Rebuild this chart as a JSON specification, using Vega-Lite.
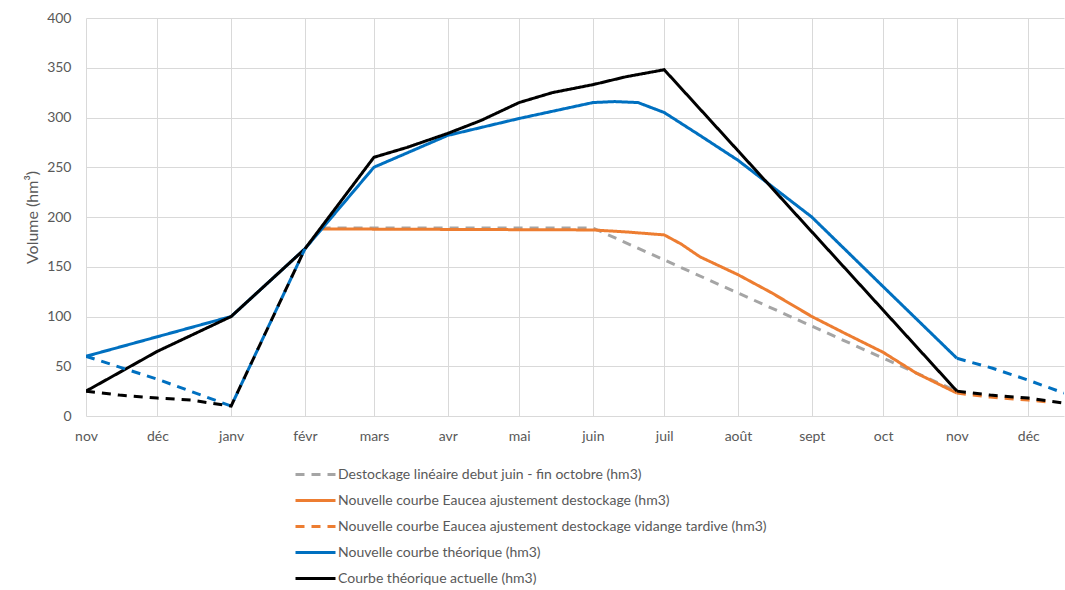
{
  "$schema": "https://vega.github.io/schema/vega-lite/v6.json",
  "width": 978,
  "height": 398,
  "autosize": {"type": "none"},
  "padding": {"left": 86, "top": 18, "right": 1, "bottom": 174},
  "background": "white",
  "config": {
    "font": "Lato",
    "view": {"stroke": null},
    "axis": {"labelColor": "#595959", "labelFontSize": 14, "titleColor": "#595959", "gridColor": "#d9d9d9", "gridWidth": 1, "ticks": false, "domain": false}
  },
  "data": {
    "values": [
      {"s": "Destockage linéaire debut juin - fin octobre (hm3)", "d": "2020-02-08", "v": 189},
      {"s": "Destockage linéaire debut juin - fin octobre (hm3)", "d": "2020-06-01", "v": 189},
      {"s": "Destockage linéaire debut juin - fin octobre (hm3)", "d": "2020-10-31", "v": 26},

      {"s": "Nouvelle courbe Eaucea ajustement destockage (hm3)", "d": "2020-02-08", "v": 188},
      {"s": "Nouvelle courbe Eaucea ajustement destockage (hm3)", "d": "2020-06-01", "v": 187},
      {"s": "Nouvelle courbe Eaucea ajustement destockage (hm3)", "d": "2020-06-15", "v": 185},
      {"s": "Nouvelle courbe Eaucea ajustement destockage (hm3)", "d": "2020-07-01", "v": 182},
      {"s": "Nouvelle courbe Eaucea ajustement destockage (hm3)", "d": "2020-07-08", "v": 173},
      {"s": "Nouvelle courbe Eaucea ajustement destockage (hm3)", "d": "2020-07-16", "v": 160},
      {"s": "Nouvelle courbe Eaucea ajustement destockage (hm3)", "d": "2020-08-01", "v": 142},
      {"s": "Nouvelle courbe Eaucea ajustement destockage (hm3)", "d": "2020-08-15", "v": 124},
      {"s": "Nouvelle courbe Eaucea ajustement destockage (hm3)", "d": "2020-09-01", "v": 100},
      {"s": "Nouvelle courbe Eaucea ajustement destockage (hm3)", "d": "2020-09-15", "v": 83},
      {"s": "Nouvelle courbe Eaucea ajustement destockage (hm3)", "d": "2020-10-01", "v": 64},
      {"s": "Nouvelle courbe Eaucea ajustement destockage (hm3)", "d": "2020-10-15", "v": 43},
      {"s": "Nouvelle courbe Eaucea ajustement destockage (hm3)", "d": "2020-11-01", "v": 23},

      {"s": "Nouvelle courbe Eaucea ajustement destockage vidange tardive (hm3)", "d": "2020-11-01", "v": 23},
      {"s": "Nouvelle courbe Eaucea ajustement destockage vidange tardive (hm3)", "d": "2020-11-15", "v": 19},
      {"s": "Nouvelle courbe Eaucea ajustement destockage vidange tardive (hm3)", "d": "2020-12-01", "v": 16},
      {"s": "Nouvelle courbe Eaucea ajustement destockage vidange tardive (hm3)", "d": "2020-12-10", "v": 14},

      {"s": "Nouvelle courbe théorique (hm3)", "d": "2019-11-01", "v": 60},
      {"s": "Nouvelle courbe théorique (hm3)", "d": "2020-01-01", "v": 100},
      {"s": "Nouvelle courbe théorique (hm3)", "d": "2020-02-01", "v": 168},
      {"s": "Nouvelle courbe théorique (hm3)", "d": "2020-03-01", "v": 250},
      {"s": "Nouvelle courbe théorique (hm3)", "d": "2020-04-01", "v": 282},
      {"s": "Nouvelle courbe théorique (hm3)", "d": "2020-05-01", "v": 299},
      {"s": "Nouvelle courbe théorique (hm3)", "d": "2020-06-01", "v": 315},
      {"s": "Nouvelle courbe théorique (hm3)", "d": "2020-06-10", "v": 316},
      {"s": "Nouvelle courbe théorique (hm3)", "d": "2020-06-20", "v": 315},
      {"s": "Nouvelle courbe théorique (hm3)", "d": "2020-07-01", "v": 305},
      {"s": "Nouvelle courbe théorique (hm3)", "d": "2020-07-16", "v": 282},
      {"s": "Nouvelle courbe théorique (hm3)", "d": "2020-08-01", "v": 257},
      {"s": "Nouvelle courbe théorique (hm3)", "d": "2020-09-01", "v": 200},
      {"s": "Nouvelle courbe théorique (hm3)", "d": "2020-10-01", "v": 130},
      {"s": "Nouvelle courbe théorique (hm3)", "d": "2020-11-01", "v": 58},

      {"s": "Courbe théorique actuelle (hm3)", "d": "2019-11-01", "v": 25},
      {"s": "Courbe théorique actuelle (hm3)", "d": "2019-12-01", "v": 65},
      {"s": "Courbe théorique actuelle (hm3)", "d": "2020-01-01", "v": 100},
      {"s": "Courbe théorique actuelle (hm3)", "d": "2020-02-01", "v": 168},
      {"s": "Courbe théorique actuelle (hm3)", "d": "2020-03-01", "v": 260},
      {"s": "Courbe théorique actuelle (hm3)", "d": "2020-03-15", "v": 270},
      {"s": "Courbe théorique actuelle (hm3)", "d": "2020-04-01", "v": 284},
      {"s": "Courbe théorique actuelle (hm3)", "d": "2020-04-15", "v": 297},
      {"s": "Courbe théorique actuelle (hm3)", "d": "2020-05-01", "v": 315},
      {"s": "Courbe théorique actuelle (hm3)", "d": "2020-05-15", "v": 325},
      {"s": "Courbe théorique actuelle (hm3)", "d": "2020-06-01", "v": 333},
      {"s": "Courbe théorique actuelle (hm3)", "d": "2020-06-15", "v": 341},
      {"s": "Courbe théorique actuelle (hm3)", "d": "2020-07-01", "v": 348},
      {"s": "Courbe théorique actuelle (hm3)", "d": "2020-11-01", "v": 25},

      {"s": "Nouvelle courbe théorique - vidange", "d": "2019-11-01", "v": 60},
      {"s": "Nouvelle courbe théorique - vidange", "d": "2019-12-01", "v": 37},
      {"s": "Nouvelle courbe théorique - vidange", "d": "2020-01-01", "v": 10},
      {"s": "Nouvelle courbe théorique - vidange", "d": "2020-02-01", "v": 168},
      {"s": "Nouvelle courbe théorique - fin", "d": "2020-11-01", "v": 58},
      {"s": "Nouvelle courbe théorique - fin", "d": "2020-11-16", "v": 48},
      {"s": "Nouvelle courbe théorique - fin", "d": "2020-12-01", "v": 36},
      {"s": "Nouvelle courbe théorique - fin", "d": "2020-12-16", "v": 23},

      {"s": "Courbe théorique actuelle - vidange", "d": "2019-11-01", "v": 25},
      {"s": "Courbe théorique actuelle - vidange", "d": "2019-11-15", "v": 21},
      {"s": "Courbe théorique actuelle - vidange", "d": "2019-12-01", "v": 18},
      {"s": "Courbe théorique actuelle - vidange", "d": "2019-12-15", "v": 16},
      {"s": "Courbe théorique actuelle - vidange", "d": "2020-01-01", "v": 10},
      {"s": "Courbe théorique actuelle - vidange", "d": "2020-02-01", "v": 168},
      {"s": "Courbe théorique actuelle - fin", "d": "2020-11-01", "v": 25},
      {"s": "Courbe théorique actuelle - fin", "d": "2020-11-15", "v": 21},
      {"s": "Courbe théorique actuelle - fin", "d": "2020-12-01", "v": 18},
      {"s": "Courbe théorique actuelle - fin", "d": "2020-12-16", "v": 13}
    ]
  },
  "mark": {"type": "line", "strokeWidth": 3, "clip": true},
  "encoding": {
    "x": {
      "field": "d",
      "type": "temporal",
      "scale": {"type": "utc", "domain": [{"year": 2019, "month": 11, "date": 1, "utc": true}, {"year": 2020, "month": 12, "date": 16, "utc": true}]},
      "axis": {
        "title": null,
        "grid": true,
        "labelPadding": 13,
        "labelAlign": "center",
        "values": [
          {"year": 2019, "month": 11, "date": 1, "utc": true},
          {"year": 2019, "month": 12, "date": 1, "utc": true},
          {"year": 2020, "month": 1, "date": 1, "utc": true},
          {"year": 2020, "month": 2, "date": 1, "utc": true},
          {"year": 2020, "month": 3, "date": 1, "utc": true},
          {"year": 2020, "month": 4, "date": 1, "utc": true},
          {"year": 2020, "month": 5, "date": 1, "utc": true},
          {"year": 2020, "month": 6, "date": 1, "utc": true},
          {"year": 2020, "month": 7, "date": 1, "utc": true},
          {"year": 2020, "month": 8, "date": 1, "utc": true},
          {"year": 2020, "month": 9, "date": 1, "utc": true},
          {"year": 2020, "month": 10, "date": 1, "utc": true},
          {"year": 2020, "month": 11, "date": 1, "utc": true},
          {"year": 2020, "month": 12, "date": 1, "utc": true}
        ],
        "labelExpr": "['janv','févr','mars','avr','mai','juin','juil','août','sept','oct','nov','déc'][utcmonth(datum.value)]"
      }
    },
    "y": {
      "field": "v",
      "type": "quantitative",
      "scale": {"domain": [0, 400], "nice": false},
      "axis": {"values": [0, 50, 100, 150, 200, 250, 300, 350, 400], "labelPadding": 15, "title": "Volume (hm³)", "titleFontSize": 16, "titleFontWeight": "normal", "titlePadding": 6}
    },
    "color": {
      "field": "s",
      "type": "nominal",
      "scale": {
        "domain": [
          "Destockage linéaire debut juin - fin octobre (hm3)",
          "Nouvelle courbe Eaucea ajustement destockage (hm3)",
          "Nouvelle courbe Eaucea ajustement destockage vidange tardive (hm3)",
          "Nouvelle courbe théorique (hm3)",
          "Courbe théorique actuelle (hm3)",
          "Nouvelle courbe théorique - vidange",
          "Nouvelle courbe théorique - fin",
          "Courbe théorique actuelle - vidange",
          "Courbe théorique actuelle - fin"
        ],
        "range": ["#a5a5a5", "#ed7d31", "#ed7d31", "#0070c0", "#000000", "#0070c0", "#0070c0", "#000000", "#000000"]
      },
      "legend": {
        "title": null,
        "orient": "none",
        "legendX": 218,
        "legendY": 445,
        "values": [
          "Destockage linéaire debut juin - fin octobre (hm3)",
          "Nouvelle courbe Eaucea ajustement destockage (hm3)",
          "Nouvelle courbe Eaucea ajustement destockage vidange tardive (hm3)",
          "Nouvelle courbe théorique (hm3)",
          "Courbe théorique actuelle (hm3)"
        ],
        "symbolType": "M-2,0H2",
        "symbolSize": 400,
        "symbolStrokeWidth": 3,
        "labelFontSize": 14,
        "labelColor": "#595959",
        "labelOffset": 11,
        "rowPadding": 7,
        "labelLimit": 600
      }
    },
    "strokeDash": {
      "field": "s",
      "type": "nominal",
      "scale": {
        "domain": [
          "Destockage linéaire debut juin - fin octobre (hm3)",
          "Nouvelle courbe Eaucea ajustement destockage (hm3)",
          "Nouvelle courbe Eaucea ajustement destockage vidange tardive (hm3)",
          "Nouvelle courbe théorique (hm3)",
          "Courbe théorique actuelle (hm3)",
          "Nouvelle courbe théorique - vidange",
          "Nouvelle courbe théorique - fin",
          "Courbe théorique actuelle - vidange",
          "Courbe théorique actuelle - fin"
        ],
        "range": [[9, 7], [1, 0], [9, 7], [1, 0], [1, 0], [9, 7], [9, 7], [9, 7], [9, 7]]
      },
      "legend": {
        "title": null,
        "orient": "none",
        "legendX": 218,
        "legendY": 445,
        "values": [
          "Destockage linéaire debut juin - fin octobre (hm3)",
          "Nouvelle courbe Eaucea ajustement destockage (hm3)",
          "Nouvelle courbe Eaucea ajustement destockage vidange tardive (hm3)",
          "Nouvelle courbe théorique (hm3)",
          "Courbe théorique actuelle (hm3)"
        ],
        "symbolType": "M-2,0H2",
        "symbolSize": 400,
        "symbolStrokeWidth": 3,
        "labelFontSize": 14,
        "labelColor": "#595959",
        "labelOffset": 11,
        "rowPadding": 7,
        "labelLimit": 600
      }
    }
  }
}
